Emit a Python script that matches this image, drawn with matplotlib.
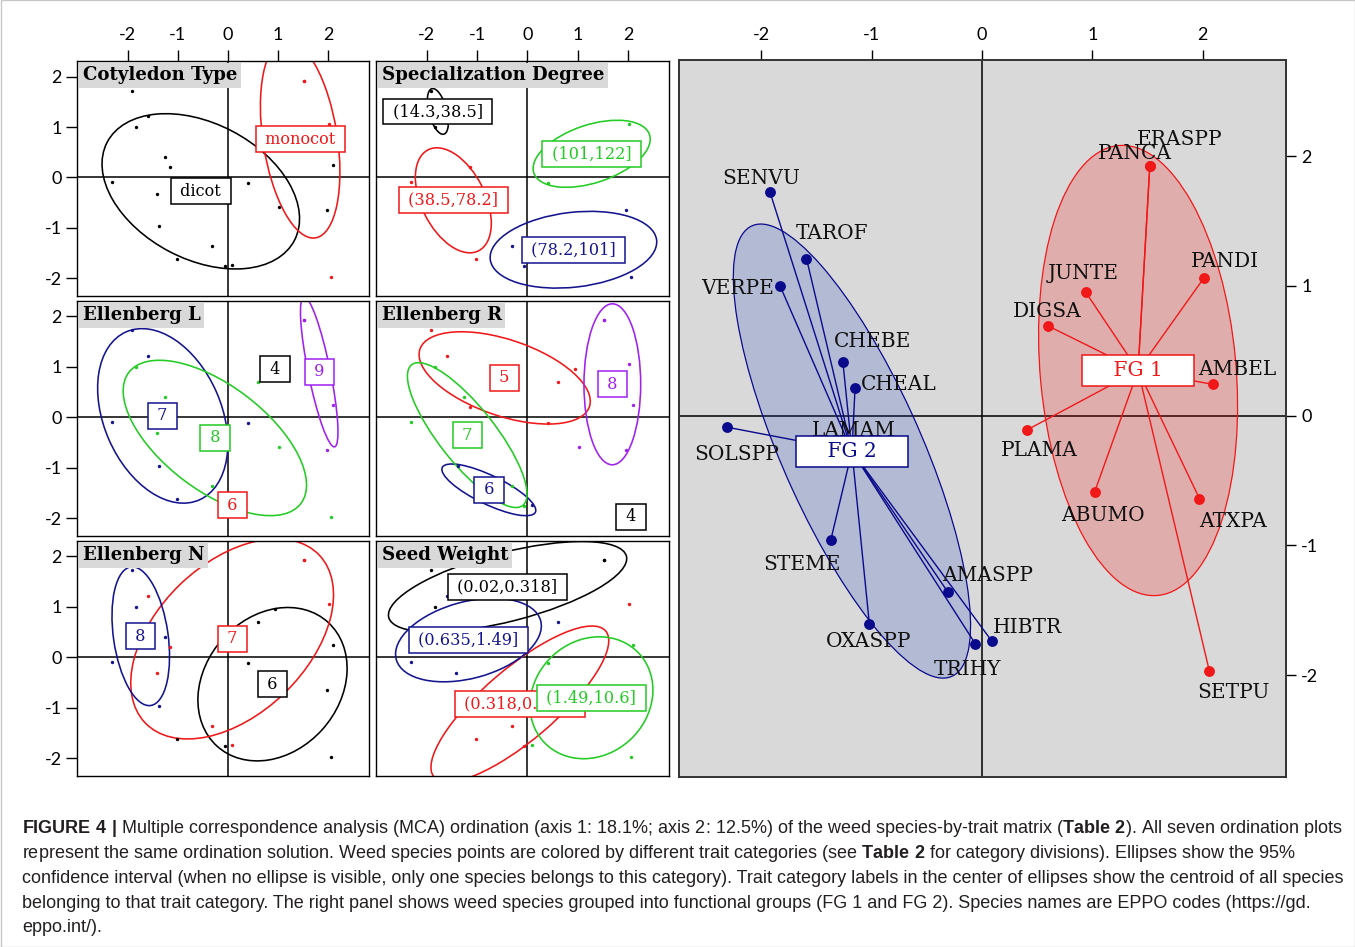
import numpy as np
import matplotlib
matplotlib.use("Agg")
import matplotlib.pyplot as plt
from matplotlib.patches import Ellipse, Rectangle

# ---------------- data ----------------
species = ["SENVU", "TAROF", "VERPE", "CHEBE", "CHEAL", "LAMAM", "SOLSPP", "STEME",
           "AMASPP", "OXASPP", "TRIHY", "HIBTR", "ERASPP", "PANCA", "PANDI", "JUNTE",
           "DIGSA", "AMBEL", "PLAMA", "ABUMO", "ATXPA", "SETPU"]
axis1 = [-1.92, -1.59, -1.83, -1.26, -1.15, -1.41, -2.31, -1.37, -0.31, -1.02, -0.06,
         0.09, 1.52, 1.52, 2.01, 0.94, 0.60, 2.09, 0.41, 1.02, 1.97, 2.06]
axis2 = [1.72, 1.21, 1.00, 0.41, 0.21, -0.32, -0.09, -0.96, -1.36, -1.61, -1.76,
         -1.74, 1.92, 1.92, 1.06, 0.95, 0.69, 0.24, -0.11, -0.59, -0.64, -1.97]

# trait category of every species (None = no value)
cotyledon = ["dicot"] * 12 + ["monocot", "monocot", "monocot", "monocot", "monocot",
                              "dicot", "dicot", "dicot", "dicot", "monocot"]
specialization = ["(14.3,38.5]", "(14.3,38.5]", "(14.3,38.5]", None, "(38.5,78.2]",
                  "(38.5,78.2]", "(38.5,78.2]", None, "(78.2,101]", "(38.5,78.2]",
                  "(78.2,101]", None, None, None, "(101,122]", None, "(101,122]",
                  "(101,122]", "(101,122]", None, "(78.2,101]", "(78.2,101]"]
ellenberg_L = ["7", "7", "8", "8", "8", "8", "7", "7", "8", "7", "8", "6",
               "9", "9", "9", "4", "8", "9", "7", "8", "9", "8"]
ellenberg_R = ["5", "5", "7", "7", "5", "7", "7", "6", "7", "6", "7", "6",
               "8", "8", "8", "5", "5", "8", "5", "8", "8", "4"]
ellenberg_N = ["8", "7", "8", "8", "7", "7", "8", "8", "7", "6", "6", "7",
               "7", "7", "7", "6", "6", "6", "6", "6", "6", "6"]
seed_weight = ["(0.02,0.318]", "(0.635,1.49]", "(0.02,0.318]", "(0.02,0.318]",
               "(0.635,1.49]", "(0.635,1.49]", "(0.635,1.49]", "(0.318,0.635]",
               "(0.318,0.635]", "(0.318,0.635]", "(0.318,0.635]", "(1.49,10.6]",
               "(0.02,0.318]", "(0.02,0.318]", "(0.318,0.635]", None, "(0.635,1.49]",
               "(1.49,10.6]", "(1.49,10.6]", "(1.49,10.6]", "(1.49,10.6]", "(1.49,10.6]"]
functional_group = ["FG 2"] * 12 + ["FG 1"] * 10

cotyledon_levels = ["dicot", "monocot"]
specialization_levels = ["(14.3,38.5]", "(38.5,78.2]", "(78.2,101]", "(101,122]"]
ellenberg_L_levels = ["4", "6", "7", "8", "9"]
ellenberg_R_levels = ["4", "5", "6", "7", "8"]
ellenberg_N_levels = ["6", "7", "8"]
seed_weight_levels = ["(0.02,0.318]", "(0.318,0.635]", "(0.635,1.49]", "(1.49,10.6]"]
group_levels = ["FG 1", "FG 2"]
tick_values = [-2, -1, 0, 1, 2]

# ---------------- style ----------------
BLACK, RED, GREEN, BLUE, PURPLE = "#000000", "#f01818", "#22cc22", "#14148f", "#a020f0"
SERIF = "DejaVu Serif"
plt.rcParams["axes.unicode_minus"] = False
plt.rcParams["mathtext.fontset"] = "custom"
plt.rcParams["mathtext.bf"] = "Liberation Sans:bold"
plt.rcParams["mathtext.rm"] = "Liberation Sans"

W, H = 1355, 947
fig = plt.figure(figsize=(W / 100, H / 100), dpi=100)


def px_axes(x0, y0, x1, y1):
    return fig.add_axes([x0 / W, 1 - y1 / H, (x1 - x0) / W, (y1 - y0) / H])


def class_ellipse(xs, ys, k=1.5):
    # ade4-style class ellipse: 1.5 sd along the principal axes
    cov = np.cov(xs, ys, bias=True)
    vals, vecs = np.linalg.eigh(cov)
    angle = np.degrees(np.arctan2(vecs[1, 1], vecs[0, 1]))
    return 2 * k * np.sqrt(vals[1]), 2 * k * np.sqrt(max(vals[0], 0)), angle


def style_ticks(ax, top, left, right=False, length=8):
    ax.set_xticks(tick_values)
    ax.set_yticks(tick_values)
    ax.tick_params(direction="out", length=length, width=1.0, labelsize=13,
                   top=top, labeltop=top, bottom=False, labelbottom=False,
                   left=left, labelleft=left, right=right, labelright=right)
    ax.tick_params(axis="x", pad=5)
    ax.tick_params(axis="y", pad=3)
    for lab in ax.get_xticklabels() + ax.get_yticklabels():
        lab.set_fontfamily(["Lato", "DejaVu Sans"])


x_all = np.array(axis1)
y_all = np.array(axis2)


def trait_panel(ax, title, cats, levels, colors, top, left):
    ax.axhline(0, color="black", lw=1.1, zorder=1)
    ax.axvline(0, color="black", lw=1.1, zorder=1)
    for lev, col in zip(levels, colors):
        idx = [i for i, c in enumerate(cats) if c == lev]
        xs, ys = x_all[idx], y_all[idx]
        ax.scatter(xs, ys, s=6, color=col, linewidths=0, zorder=3)
        if len(idx) > 1:
            w, h, ang = class_ellipse(xs, ys)
            ax.add_patch(Ellipse((xs.mean(), ys.mean()), w, h, angle=ang, fill=False,
                                 edgecolor=col, lw=1.15, zorder=2))
    for lev, col in zip(levels, colors):
        idx = [i for i, c in enumerate(cats) if c == lev]
        ax.text(x_all[idx].mean(), y_all[idx].mean(), " " + lev + " ", ha="center",
                va="center", color=col, fontsize=11.6, family=SERIF, zorder=5,
                bbox=dict(boxstyle="square,pad=0.27", fc="white", ec=col, lw=1.1))
    ax.annotate(title, xy=(0, 1), xycoords="axes fraction", xytext=(4, -3.5),
                textcoords="offset points", ha="left", va="top", fontsize=13.1,
                fontweight="bold", family=SERIF, zorder=6,
                bbox=dict(boxstyle="square,pad=0.2", fc="#d9d9d9", ec="none"))
    ax.set_xlim(-3.01, 2.815)
    ax.set_ylim(-2.35, 2.30)
    for s in ax.spines.values():
        s.set_linewidth(1.0)
    style_ticks(ax, top, left)


cols = [(77, 369), (376, 669)]
rows = [(61.5, 296), (301, 536), (541, 776)]
panels = [
    ("Cotyledon Type", cotyledon, cotyledon_levels, [BLACK, RED]),
    ("Specialization Degree", specialization, specialization_levels, [BLACK, RED, BLUE, GREEN]),
    ("Ellenberg L", ellenberg_L, ellenberg_L_levels, [BLACK, RED, BLUE, GREEN, PURPLE]),
    ("Ellenberg R", ellenberg_R, ellenberg_R_levels, [BLACK, RED, BLUE, GREEN, PURPLE]),
    ("Ellenberg N", ellenberg_N, ellenberg_N_levels, [BLACK, RED, BLUE]),
    ("Seed Weight", seed_weight, seed_weight_levels, [BLACK, RED, BLUE, GREEN]),
]
for k, (title, cats, levels, colors) in enumerate(panels):
    r, c = divmod(k, 2)
    ax = px_axes(cols[c][0], rows[r][0], cols[c][1], rows[r][1])
    trait_panel(ax, title, cats, levels, colors, top=(r == 0), left=(c == 0))

# ---------------- right panel: functional groups ----------------
label_offset_px = {
    "SENVU": (-9, -16), "TAROF": (26, -27), "VERPE": (-42, 1), "CHEBE": (30, -23),
    "CHEAL": (44, -6), "LAMAM": (27, -29), "SOLSPP": (10, 25), "STEME": (-29, 22),
    "AMASPP": (40, -18), "OXASPP": (-1, 15), "TRIHY": (-8, 24), "HIBTR": (35, -16),
    "ERASPP": (30, -29), "PANCA": (-15, -15), "PANDI": (21, -18), "JUNTE": (-3, -21),
    "DIGSA": (-1, -16), "AMBEL": (25, -17), "PLAMA": (12, 19), "ABUMO": (8, 21),
    "ATXPA": (34, 21), "SETPU": (24, 19)}
group_colors = {"FG 1": (RED, (1.0, 0.0, 0.0, 0.2)),
                "FG 2": ("#0a0a8c", (0.12, 0.25, 0.75, 0.2))}

axb = px_axes(679, 60, 1286, 777)
axb.set_facecolor("#d9d9d9")
axb.axhline(0, color="black", lw=1.1, zorder=1)
axb.axvline(0, color="black", lw=1.1, zorder=1)
for g in group_levels:
    col, fill = group_colors[g]
    idx = [i for i, v in enumerate(functional_group) if v == g]
    xs, ys = x_all[idx], y_all[idx]
    cx, cy = xs.mean(), ys.mean()
    w, h, ang = class_ellipse(xs, ys)
    axb.add_patch(Ellipse((cx, cy), w, h, angle=ang, facecolor=fill, edgecolor=col,
                          lw=0.9, zorder=2))
    for xi, yi in zip(xs, ys):
        axb.plot([cx, xi], [cy, yi], color=col, lw=1.0, zorder=3)
    axb.plot(xs, ys, "o", ms=6.8, color=col, zorder=4)
    axb.text(cx, cy, "    " + g + "    ", ha="center", va="center", color=col,
             fontsize=14.5, family=SERIF, zorder=6,
             bbox=dict(boxstyle="square,pad=0.3", fc="white", ec=col, lw=1.1))
for name, xi, yi in zip(species, axis1, axis2):
    dx, dy = label_offset_px[name]
    axb.annotate(name, (xi, yi), xytext=(dx * 0.72, -dy * 0.72),
                 textcoords="offset points", ha="center", va="center_baseline",
                 fontsize=14.5, family=SERIF, color="#111111", zorder=5)
axb.set_xlim(-2.745, 2.754)
axb.set_ylim(-2.786, 2.74)
for s in axb.spines.values():
    s.set_linewidth(1.4)
    s.set_color("#333333")
style_ticks(axb, top=True, left=False, right=True, length=7)
axb.tick_params(axis="y", pad=4)

# ---------------- caption ----------------
caption_lines = [
    r"$\mathbf{FIGURE\ 4\ |}$ Multiple correspondence analysis (MCA) ordination (axis 1: 18.1%; "
    r"axis 2: 12.5%) of the weed species-by-trait matrix ($\mathbf{Table\ 2}$). All seven ordination plots",
    r"represent the same ordination solution. Weed species points are colored by different trait "
    r"categories (see $\mathbf{Table\ 2}$ for category divisions). Ellipses show the 95%",
    "confidence interval (when no ellipse is visible, only one species belongs to this category). "
    "Trait category labels in the center of ellipses show the centroid of all species",
    "belonging to that trait category. The right panel shows weed species grouped into functional "
    "groups (FG 1 and FG 2). Species names are EPPO codes (https://gd.",
    "eppo.int/).",
]
caption_y = [828, 853, 878, 903, 927]
texts = []
for line, yy in zip(caption_lines, caption_y):
    texts.append(fig.text(22 / W, 1 - yy / H, line, ha="left", va="center", fontsize=12,
                          family="Liberation Sans", color="#231f20"))
renderer = fig.canvas.get_renderer()
width = texts[0].get_window_extent(renderer=renderer).width
scale = 1316 / width
for t in texts:
    t.set_fontsize(12 * scale)

fig.add_artist(Rectangle((0.5 / W, 0.5 / H), (W - 1) / W, (H - 1) / H, transform=fig.transFigure,
                         fill=False, edgecolor="#c8c8c8", lw=1.0))

fig.savefig("out.png", dpi=100)
